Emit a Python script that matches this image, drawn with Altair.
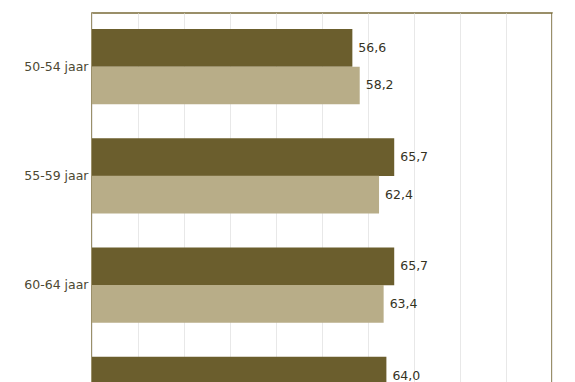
import altair as alt
import pandas as pd

groups = ["50-54 jaar", "55-59 jaar", "60-64 jaar", "65-69 jaar"]
series = ["A", "B"]
values_a = [56.6, 65.7, 65.7, 64.0]
values_b = [58.2, 62.4, 63.4, 60.0]

rows = []
for g, a, b in zip(groups, values_a, values_b):
    rows.append({"groep": g, "reeks": "A", "waarde": a, "label": f"{a:.1f}".replace(".", ",")})
    rows.append({"groep": g, "reeks": "B", "waarde": b, "label": f"{b:.1f}".replace(".", ",")})
df = pd.DataFrame(rows)

ycommon = alt.Y("groep:N", sort=groups,
                scale=alt.Scale(paddingInner=0.31, paddingOuter=0.146),
                axis=alt.Axis(title=None, ticks=False, domain=False, labelPadding=4,
                              labelFont="DejaVu Sans", labelFontSize=12.5,
                              labelColor="#4d4933", grid=False))
yoff = alt.YOffset("reeks:N", sort=series, scale=alt.Scale(paddingInner=0, paddingOuter=0))
xenc = alt.X("waarde:Q", scale=alt.Scale(domain=[0, 100], nice=False),
             axis=alt.Axis(title=None, values=list(range(0, 101, 10)), grid=True,
                           gridColor="#e8e8e8", gridWidth=1, domain=False, ticks=False,
                           labels=False))

bars = alt.Chart(df).mark_bar(size=37.7).encode(
    y=ycommon, yOffset=yoff, x=xenc,
    color=alt.Color("reeks:N", sort=series,
                    scale=alt.Scale(domain=series, range=["#6b5e2d", "#b8ad88"]),
                    legend=None),
)

text = alt.Chart(df).mark_text(align="left", baseline="middle", dx=6,
                               font="DejaVu Sans", fontSize=12.5, color="#35331f").encode(
    y=ycommon, yOffset=yoff, x=alt.X("waarde:Q"), text="label:N"
)

chart = (bars + text).properties(
    width=460, height=435,
    autosize=alt.AutoSizeParams(type="none"),
    padding={"left": 84, "top": 5, "right": 4, "bottom": 0},
).configure(background="white").configure_view(stroke="#7a6b38", strokeWidth=1.5)

chart.save("out.html", embed_options={"renderer": "svg", "actions": False})
